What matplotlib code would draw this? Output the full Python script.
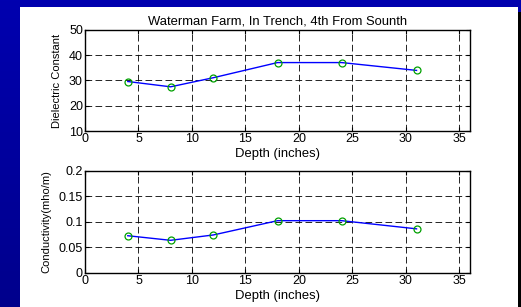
import numpy as np
import matplotlib
matplotlib.use("Agg")
import matplotlib.pyplot as plt
from matplotlib.patches import Rectangle

depth = [4, 8, 12, 18, 24, 31]
dielectric = [29.6, 27.5, 31.1, 37.1, 37.1, 34.0]
conductivity = [0.0725, 0.0635, 0.074, 0.102, 0.102, 0.086]

title = "Waterman Farm, In Trench, 4th From Sounth"
xlabel = "Depth (inches)"
ylabel_top = "Dielectric Constant"
ylabel_bot = "Conductivity(mho/m)"

plt.rcParams['font.family'] = ['Liberation Sans', 'DejaVu Sans']

fig = plt.figure(figsize=(5.21, 3.07), dpi=100)

# background gradient
bg = fig.add_axes([0, 0, 1, 1], zorder=-10)
grad = np.linspace(0, 1, 256).reshape(-1, 1)
cols = np.zeros((256, 1, 3))
cols[:, 0, 2] = (175 - 35 * grad[:, 0]) / 255.0
bg.imshow(cols, aspect='auto', extent=[0, 1, 0, 1], origin='upper')
bg.set_xlim(0, 1); bg.set_ylim(0, 1)
bg.axis('off')
# shadow and white panel
bg.add_patch(Rectangle((518/521, 0), 3/521, 1 - 12/307, color='black', lw=0))
bg.add_patch(Rectangle((20/521, 0), 498/521, 1 - 7/307, color='white', lw=0))

fs = 9.4
fst = 9.0
fsy = 8.0

def style(ax):
    ax.set_xlim(0, 36)
    ax.set_xticks([0, 5, 10, 15, 20, 25, 30, 35])
    ax.grid(True, color='black', linestyle=(0, (8, 4)), linewidth=0.6)
    ax.tick_params(direction='in', length=3, width=0.8, top=True, right=True,
                   labelsize=fst, pad=1.5, colors='black')
    for s in ax.spines.values():
        s.set_linewidth(1.0)
        s.set_color('black')
    ax.set_facecolor('white')

ax1 = fig.add_axes([85/521, 1 - 131/307, 385/521, 101/307])
ax1.plot(depth, dielectric, '-', color='#0000FF', lw=1.0)
ax1.plot(depth, dielectric, 'o', mfc='none', mec='#00A000', ms=5, mew=0.9)
ax1.set_ylim(10, 50)
ax1.set_yticks([10, 20, 30, 40, 50])
style(ax1)
ax1.set_title(title, fontsize=fs, pad=4)
ax1.set_xlabel(xlabel, fontsize=fs, labelpad=2)
ax1.set_ylabel(ylabel_top, fontsize=fsy, labelpad=5)

ax2 = fig.add_axes([85/521, 1 - 272.7/307, 385/521, 102/307])
ax2.plot(depth, conductivity, '-', color='#0000FF', lw=1.0)
ax2.plot(depth, conductivity, 'o', mfc='none', mec='#00A000', ms=5, mew=0.9)
ax2.set_ylim(0, 0.2)
ax2.set_yticks([0, 0.05, 0.1, 0.15, 0.2])
ax2.set_yticklabels(['0', '0.05', '0.1', '0.15', '0.2'])
style(ax2)
ax2.set_xlabel(xlabel, fontsize=fs, labelpad=2)
ax2.set_ylabel(ylabel_bot, fontsize=fsy, labelpad=5)

fig.savefig('out.png', dpi=100)
